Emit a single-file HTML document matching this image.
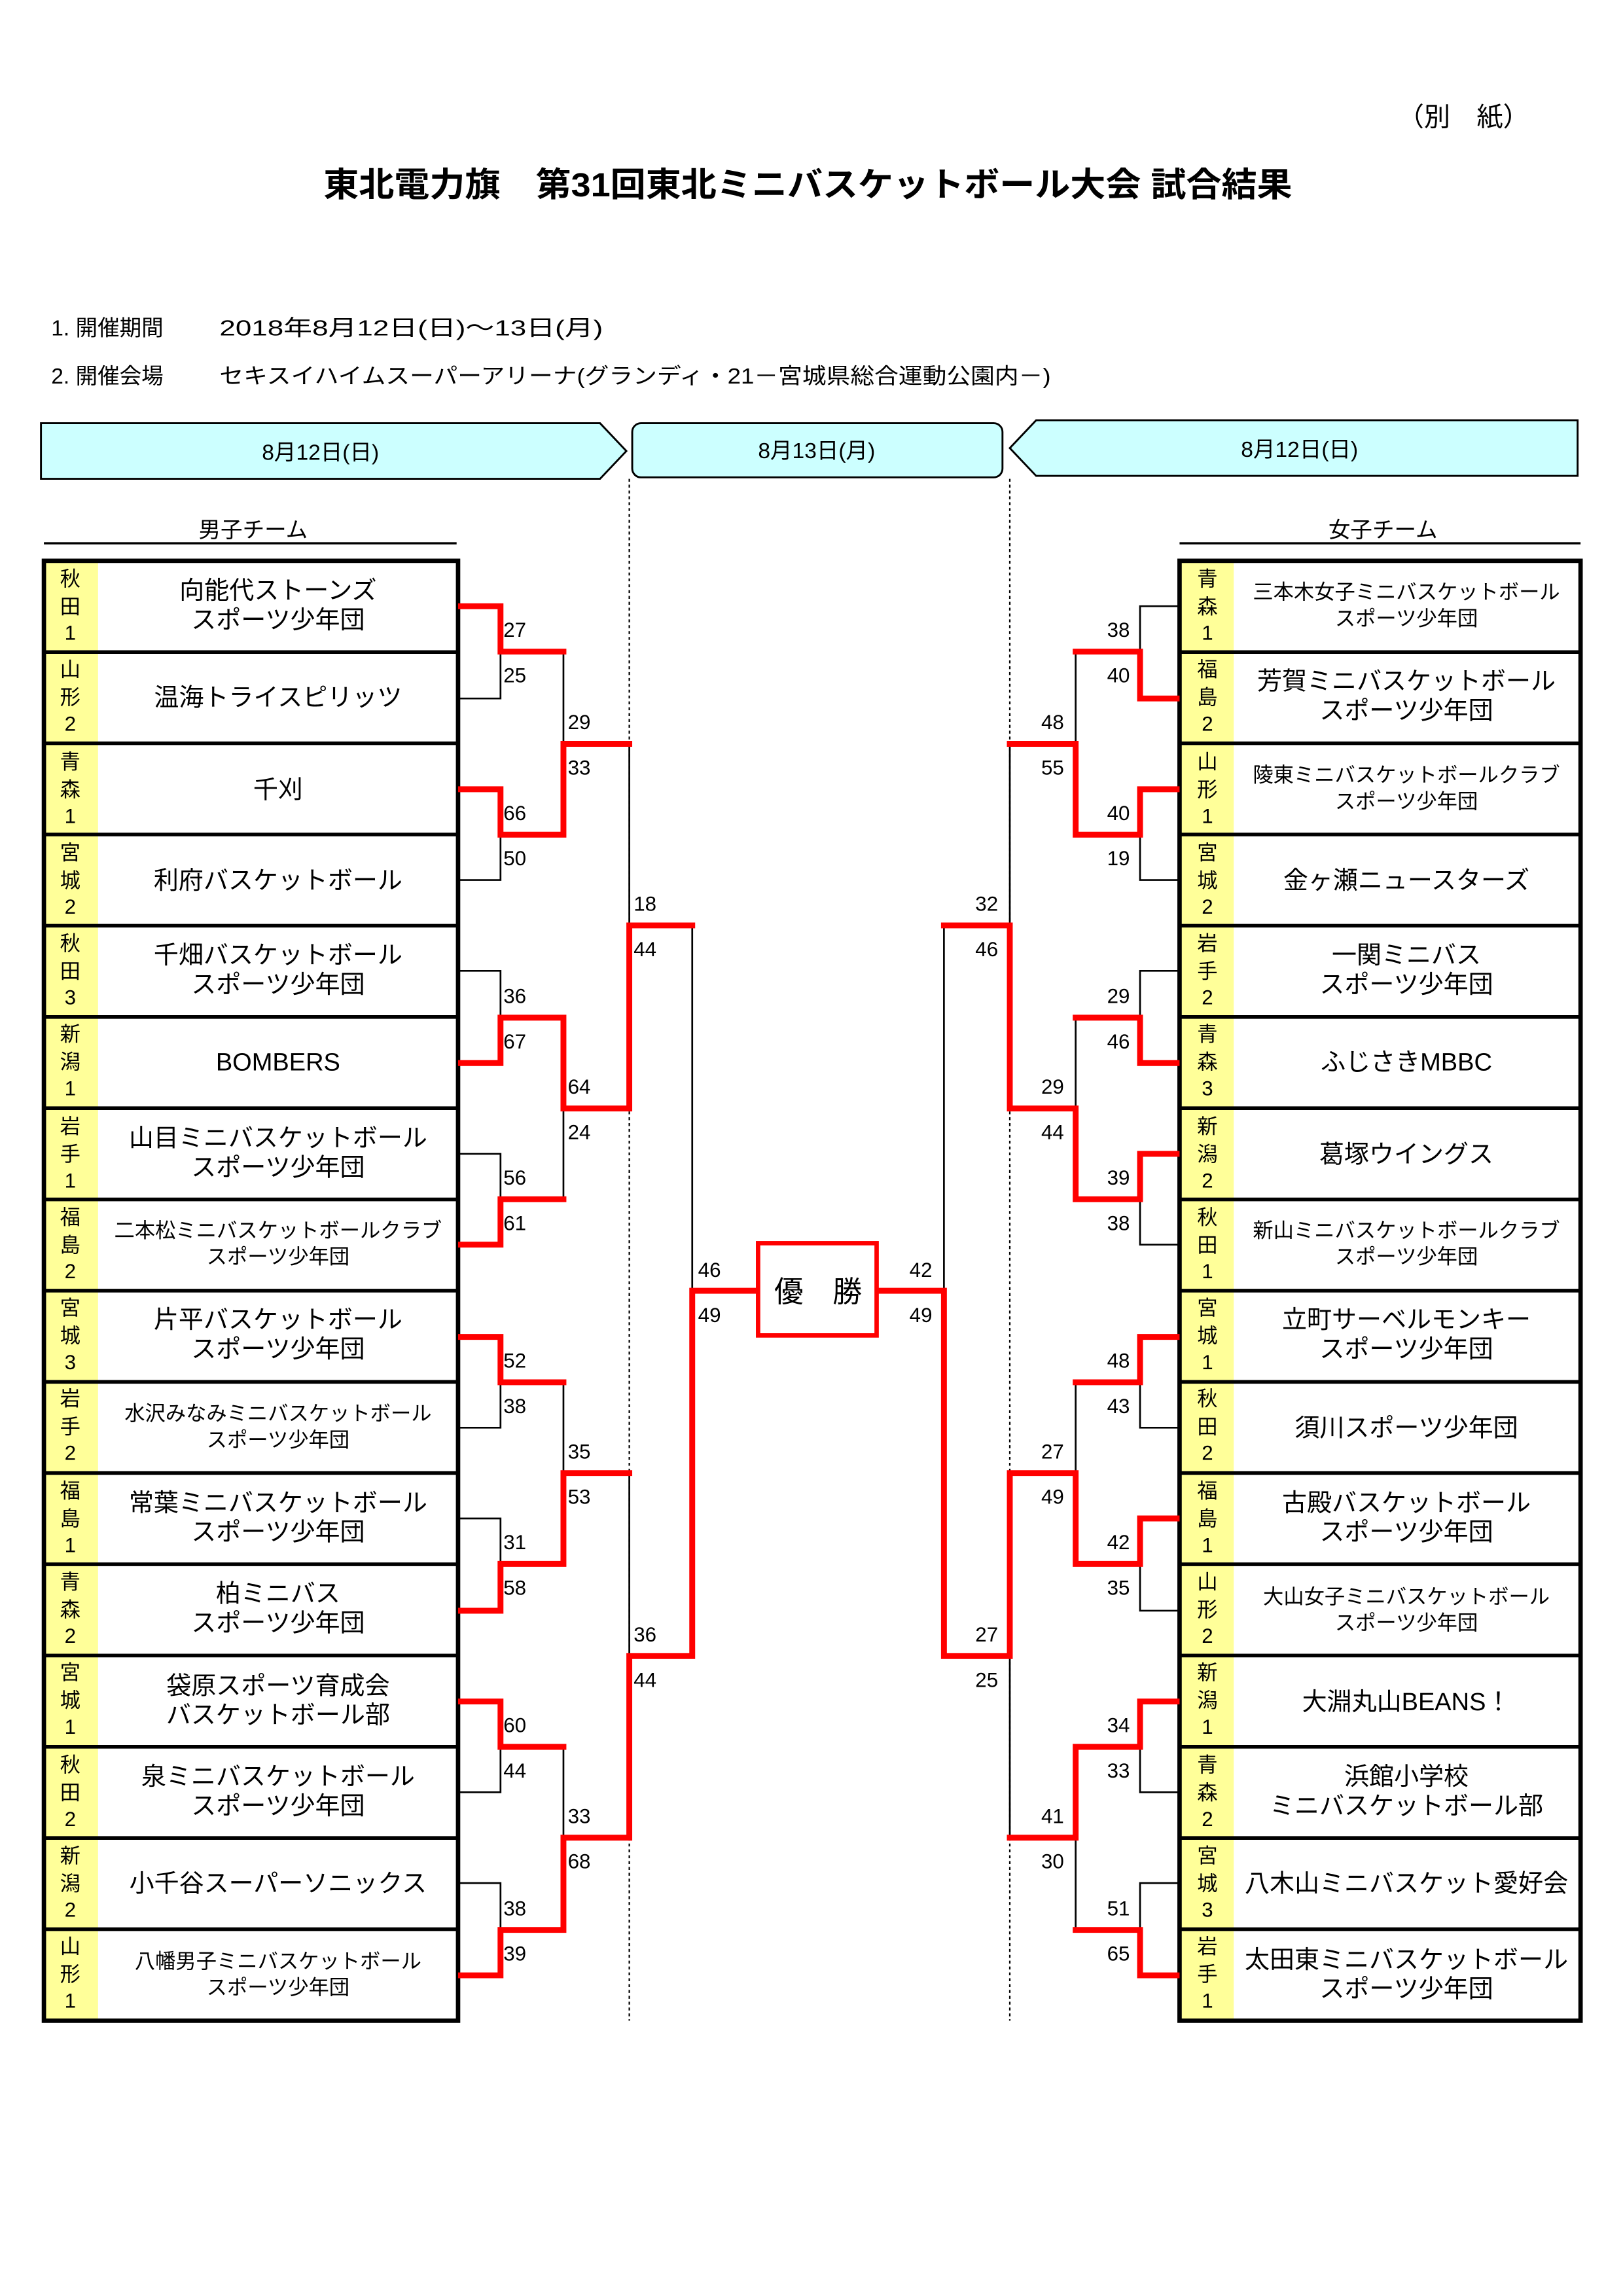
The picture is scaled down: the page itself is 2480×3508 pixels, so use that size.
<!DOCTYPE html>
<html><head><meta charset="utf-8"><style>
html,body{margin:0;padding:0;background:#fff}
svg{display:block}
text{font-family:"Liberation Sans","Noto Sans CJK JP",sans-serif;fill:#000}
.p{font-size:14px;text-anchor:middle}
.n{font-size:17px;text-anchor:middle}
.s{font-size:14px;text-anchor:middle}
.sc{font-size:14px}
.scr{font-size:14px;text-anchor:end}
.bk{fill:none;stroke:#000;stroke-width:1.2}
.rd{fill:none;stroke:#f00;stroke-width:4;stroke-linejoin:miter;stroke-linecap:square}
</style></head><body>
<svg width="2480" height="3508" viewBox="0 0 1109 1568" preserveAspectRatio="none" xmlns="http://www.w3.org/2000/svg">
<rect width="1109" height="1568" fill="#fff"/>
<text x="1000" y="86" style="font-size:18px;text-anchor:middle">（別　紙）</text>
<text x="552" y="134" style="font-size:23px;font-weight:bold;text-anchor:middle" textLength="662" lengthAdjust="spacingAndGlyphs">東北電力旗　第31回東北ミニバスケットボール大会 試合結果</text>
<text x="35" y="229" style="font-size:15px">1. 開催期間</text>
<text x="150" y="229" style="font-size:15px" textLength="262" lengthAdjust="spacingAndGlyphs">2018年8月12日(日)～13日(月)</text>
<text x="35" y="262" style="font-size:15px">2. 開催会場</text>
<text x="150" y="262" style="font-size:15px" textLength="568" lengthAdjust="spacingAndGlyphs">セキスイハイムスーパーアリーナ(グランディ・21－宮城県総合運動公園内－)</text>

<polygon points="28,289 410,289 428,308 410,327 28,327" fill="#ccffff" stroke="#000" stroke-width="1.3"/>
<rect x="432" y="289" width="253" height="37" rx="6" fill="#ccffff" stroke="#000" stroke-width="1.3"/>
<polygon points="708,287 1078,287 1078,325 708,325 690,306" fill="#ccffff" stroke="#000" stroke-width="1.3"/>
<text x="219" y="314" style="font-size:15px;text-anchor:middle">8月12日(日)</text>
<text x="558" y="313" style="font-size:15px;text-anchor:middle">8月13日(月)</text>
<text x="888" y="312" style="font-size:15px;text-anchor:middle">8月12日(日)</text>

<line x1="430" y1="327" x2="430" y2="1380" stroke="#000" stroke-width="1" stroke-dasharray="2,2"/>
<line x1="690" y1="327" x2="690" y2="1380" stroke="#000" stroke-width="1" stroke-dasharray="2,2"/>

<text x="173" y="367" style="font-size:15px;text-anchor:middle">男子チーム</text>
<line x1="30" y1="371" x2="312" y2="371" stroke="#000" stroke-width="1.5"/>
<text x="945" y="367" style="font-size:15px;text-anchor:middle">女子チーム</text>
<line x1="806" y1="371" x2="1080" y2="371" stroke="#000" stroke-width="1.5"/>

<rect x="30" y="383" width="283" height="997" fill="#fff"/>
<rect x="31" y="383" width="36" height="997" fill="#ffff99"/>
<rect x="807" y="383" width="36" height="997" fill="#ffff99"/>
<g stroke="#000" stroke-width="2.5">
<line x1="30" y1="445.3" x2="313" y2="445.3"/><line x1="30" y1="507.6" x2="313" y2="507.6"/><line x1="30" y1="569.9" x2="313" y2="569.9"/><line x1="30" y1="632.2" x2="313" y2="632.2"/><line x1="30" y1="694.5" x2="313" y2="694.5"/><line x1="30" y1="756.8" x2="313" y2="756.8"/><line x1="30" y1="819.1" x2="313" y2="819.1"/><line x1="30" y1="881.4" x2="313" y2="881.4"/><line x1="30" y1="943.7" x2="313" y2="943.7"/><line x1="30" y1="1006" x2="313" y2="1006"/><line x1="30" y1="1068.3" x2="313" y2="1068.3"/><line x1="30" y1="1130.6" x2="313" y2="1130.6"/><line x1="30" y1="1192.9" x2="313" y2="1192.9"/><line x1="30" y1="1255.2" x2="313" y2="1255.2"/><line x1="30" y1="1317.5" x2="313" y2="1317.5"/>
<line x1="806" y1="445.3" x2="1080" y2="445.3"/><line x1="806" y1="507.6" x2="1080" y2="507.6"/><line x1="806" y1="569.9" x2="1080" y2="569.9"/><line x1="806" y1="632.2" x2="1080" y2="632.2"/><line x1="806" y1="694.5" x2="1080" y2="694.5"/><line x1="806" y1="756.8" x2="1080" y2="756.8"/><line x1="806" y1="819.1" x2="1080" y2="819.1"/><line x1="806" y1="881.4" x2="1080" y2="881.4"/><line x1="806" y1="943.7" x2="1080" y2="943.7"/><line x1="806" y1="1006" x2="1080" y2="1006"/><line x1="806" y1="1068.3" x2="1080" y2="1068.3"/><line x1="806" y1="1130.6" x2="1080" y2="1130.6"/><line x1="806" y1="1192.9" x2="1080" y2="1192.9"/><line x1="806" y1="1255.2" x2="1080" y2="1255.2"/><line x1="806" y1="1317.5" x2="1080" y2="1317.5"/>
</g>
<rect x="30" y="383" width="283" height="997" fill="none" stroke="#000" stroke-width="3"/>
<rect x="806" y="383" width="274" height="997" fill="none" stroke="#000" stroke-width="3"/>

<g class="p">
<text x="48" y="400">秋</text><text x="48" y="419">田</text><text x="48" y="437">1</text>
<text x="48" y="462">山</text><text x="48" y="481">形</text><text x="48" y="499">2</text>
<text x="48" y="525">青</text><text x="48" y="544">森</text><text x="48" y="562">1</text>
<text x="48" y="587">宮</text><text x="48" y="606">城</text><text x="48" y="624">2</text>
<text x="48" y="649">秋</text><text x="48" y="668">田</text><text x="48" y="686">3</text>
<text x="48" y="711">新</text><text x="48" y="730">潟</text><text x="48" y="748">1</text>
<text x="48" y="774">岩</text><text x="48" y="793">手</text><text x="48" y="811">1</text>
<text x="48" y="836">福</text><text x="48" y="855">島</text><text x="48" y="873">2</text>
<text x="48" y="898">宮</text><text x="48" y="917">城</text><text x="48" y="935">3</text>
<text x="48" y="960">岩</text><text x="48" y="979">手</text><text x="48" y="997">2</text>
<text x="48" y="1023">福</text><text x="48" y="1042">島</text><text x="48" y="1060">1</text>
<text x="48" y="1085">青</text><text x="48" y="1104">森</text><text x="48" y="1122">2</text>
<text x="48" y="1147">宮</text><text x="48" y="1166">城</text><text x="48" y="1184">1</text>
<text x="48" y="1210">秋</text><text x="48" y="1229">田</text><text x="48" y="1247">2</text>
<text x="48" y="1272">新</text><text x="48" y="1291">潟</text><text x="48" y="1309">2</text>
<text x="48" y="1334">山</text><text x="48" y="1353">形</text><text x="48" y="1371">1</text>
</g>
<g class="p">
<text x="825" y="400">青</text><text x="825" y="419">森</text><text x="825" y="437">1</text>
<text x="825" y="462">福</text><text x="825" y="481">島</text><text x="825" y="499">2</text>
<text x="825" y="525">山</text><text x="825" y="544">形</text><text x="825" y="562">1</text>
<text x="825" y="587">宮</text><text x="825" y="606">城</text><text x="825" y="624">2</text>
<text x="825" y="649">岩</text><text x="825" y="668">手</text><text x="825" y="686">2</text>
<text x="825" y="711">青</text><text x="825" y="730">森</text><text x="825" y="748">3</text>
<text x="825" y="774">新</text><text x="825" y="793">潟</text><text x="825" y="811">2</text>
<text x="825" y="836">秋</text><text x="825" y="855">田</text><text x="825" y="873">1</text>
<text x="825" y="898">宮</text><text x="825" y="917">城</text><text x="825" y="935">1</text>
<text x="825" y="960">秋</text><text x="825" y="979">田</text><text x="825" y="997">2</text>
<text x="825" y="1023">福</text><text x="825" y="1042">島</text><text x="825" y="1060">1</text>
<text x="825" y="1085">山</text><text x="825" y="1104">形</text><text x="825" y="1122">2</text>
<text x="825" y="1147">新</text><text x="825" y="1166">潟</text><text x="825" y="1184">1</text>
<text x="825" y="1210">青</text><text x="825" y="1229">森</text><text x="825" y="1247">2</text>
<text x="825" y="1272">宮</text><text x="825" y="1291">城</text><text x="825" y="1309">3</text>
<text x="825" y="1334">岩</text><text x="825" y="1353">手</text><text x="825" y="1371">1</text>
</g>

<text class="n" x="190" y="409">向能代ストーンズ</text><text class="n" x="190" y="429">スポーツ少年団</text>
<text class="n" x="190" y="482">温海トライスピリッツ</text>
<text class="n" x="190" y="545">千刈</text>
<text class="n" x="190" y="607">利府バスケットボール</text>
<text class="n" x="190" y="658">千畑バスケットボール</text><text class="n" x="190" y="678">スポーツ少年団</text>
<text class="n" x="190" y="731">BOMBERS</text>
<text class="n" x="190" y="783">山目ミニバスケットボール</text><text class="n" x="190" y="803">スポーツ少年団</text>
<text class="s" x="190" y="845">二本松ミニバスケットボールクラブ</text><text class="s" x="190" y="863">スポーツ少年団</text>
<text class="n" x="190" y="907">片平バスケットボール</text><text class="n" x="190" y="927">スポーツ少年団</text>
<text class="s" x="190" y="970">水沢みなみミニバスケットボール</text><text class="s" x="190" y="988">スポーツ少年団</text>
<text class="n" x="190" y="1032">常葉ミニバスケットボール</text><text class="n" x="190" y="1052">スポーツ少年団</text>
<text class="n" x="190" y="1094">柏ミニバス</text><text class="n" x="190" y="1114">スポーツ少年団</text>
<text class="n" x="190" y="1157">袋原スポーツ育成会</text><text class="n" x="190" y="1177">バスケットボール部</text>
<text class="n" x="190" y="1219">泉ミニバスケットボール</text><text class="n" x="190" y="1239">スポーツ少年団</text>
<text class="n" x="190" y="1292">小千谷スーパーソニックス</text>
<text class="s" x="190" y="1344">八幡男子ミニバスケットボール</text><text class="s" x="190" y="1362">スポーツ少年団</text>

<text class="s" x="961" y="409">三本木女子ミニバスケットボール</text><text class="s" x="961" y="427">スポーツ少年団</text>
<text class="n" x="961" y="471">芳賀ミニバスケットボール</text><text class="n" x="961" y="491">スポーツ少年団</text>
<text class="s" x="961" y="534">陵東ミニバスケットボールクラブ</text><text class="s" x="961" y="552">スポーツ少年団</text>
<text class="n" x="961" y="607">金ヶ瀬ニュースターズ</text>
<text class="n" x="961" y="658">一関ミニバス</text><text class="n" x="961" y="678">スポーツ少年団</text>
<text class="n" x="961" y="731">ふじさきMBBC</text>
<text class="n" x="961" y="794">葛塚ウイングス</text>
<text class="s" x="961" y="845">新山ミニバスケットボールクラブ</text><text class="s" x="961" y="863">スポーツ少年団</text>
<text class="n" x="961" y="907">立町サーベルモンキー</text><text class="n" x="961" y="927">スポーツ少年団</text>
<text class="n" x="961" y="981">須川スポーツ少年団</text>
<text class="n" x="961" y="1032">古殿バスケットボール</text><text class="n" x="961" y="1052">スポーツ少年団</text>
<text class="s" x="961" y="1095">大山女子ミニバスケットボール</text><text class="s" x="961" y="1113">スポーツ少年団</text>
<text class="n" x="961" y="1168">大淵丸山BEANS！</text>
<text class="n" x="961" y="1219">浜館小学校</text><text class="n" x="961" y="1239">ミニバスケットボール部</text>
<text class="n" x="961" y="1292">八木山ミニバスケット愛好会</text>
<text class="n" x="961" y="1344">太田東ミニバスケットボール</text><text class="n" x="961" y="1364">スポーツ少年団</text>

<path class="bk" d="M313 414H342V477H313M342 445H385 M313 539H342V601H313M342 570H385 M313 663H342V726H313M342 695H385 M313 788H342V850H313M342 819H385 M313 913H342V975H313M342 944H385 M313 1037H342V1100H313M342 1068H385 M313 1162H342V1224H313M342 1193H385 M313 1286H342V1349H313M342 1318H385
M385 445V570M385 508H430 M385 695V819M385 757H430 M385 944V1068M385 1006H430 M385 1193V1318M385 1255H430
M430 508V757M430 632H473 M430 1006V1255M430 1131H473 M473 632V1131"/>
<path class="bk" d="M806 414H779V477H806M779 445H735 M806 539H779V601H806M779 570H735 M806 663H779V726H806M779 695H735 M806 788H779V850H806M779 819H735 M806 913H779V975H806M779 944H735 M806 1037H779V1100H806M779 1068H735 M806 1162H779V1224H806M779 1193H735 M806 1286H779V1349H806M779 1318H735
M735 445V570M735 508H690 M735 695V819M735 757H690 M735 944V1068M735 1006H690 M735 1193V1318M735 1255H690
M690 508V757M690 632H645 M690 1006V1255M690 1131H645 M645 632V1131"/>

<path class="rd" d="M315 414H342V445H385 M315 539H342V570H385 M385 570V508H430 M315 726H342V695H385 M315 850H342V819H385 M385 695V757H430 M430 757V632H473 M315 913H342V944H385 M315 1100H342V1068H385 M385 1068V1006H430 M315 1162H342V1193H385 M315 1349H342V1318H385 M385 1318V1255H430 M430 1255V1131H473 M473 1131V881.5H518"/>
<path class="rd" d="M804 477H779V445H735 M804 539H779V570H735 M735 570V508H690 M804 726H779V695H735 M804 788H779V819H735 M735 819V757H690 M690 757V632H645 M804 913H779V944H735 M804 1037H779V1068H735 M735 1068V1006H690 M804 1162H779V1193H735 M804 1349H779V1318H735 M735 1193V1255H690 M690 1006V1131H645 M645 1131V881.5H600"/>

<rect x="518" y="849" width="81" height="63" fill="#fff" stroke="#f00" stroke-width="3"/>
<text x="559" y="889" style="font-size:20px;text-anchor:middle">優　勝</text>

<g class="sc">
<text x="344" y="435">27</text><text x="344" y="466">25</text>
<text x="344" y="560">66</text><text x="344" y="591">50</text>
<text x="344" y="685">36</text><text x="344" y="716">67</text>
<text x="344" y="809">56</text><text x="344" y="840">61</text>
<text x="344" y="934">52</text><text x="344" y="965">38</text>
<text x="344" y="1058">31</text><text x="344" y="1089">58</text>
<text x="344" y="1183">60</text><text x="344" y="1214">44</text>
<text x="344" y="1308">38</text><text x="344" y="1339">39</text>
<text x="388" y="498">29</text><text x="388" y="529">33</text>
<text x="388" y="747">64</text><text x="388" y="778">24</text>
<text x="388" y="996">35</text><text x="388" y="1027">53</text>
<text x="388" y="1245">33</text><text x="388" y="1276">68</text>
<text x="433" y="622">18</text><text x="433" y="653">44</text>
<text x="433" y="1121">36</text><text x="433" y="1152">44</text>
<text x="477" y="872">46</text><text x="477" y="903">49</text>
</g>
<g class="scr">
<text x="772" y="435">38</text><text x="772" y="466">40</text>
<text x="772" y="560">40</text><text x="772" y="591">19</text>
<text x="772" y="685">29</text><text x="772" y="716">46</text>
<text x="772" y="809">39</text><text x="772" y="840">38</text>
<text x="772" y="934">48</text><text x="772" y="965">43</text>
<text x="772" y="1058">42</text><text x="772" y="1089">35</text>
<text x="772" y="1183">34</text><text x="772" y="1214">33</text>
<text x="772" y="1308">51</text><text x="772" y="1339">65</text>
<text x="727" y="498">48</text><text x="727" y="529">55</text>
<text x="727" y="747">29</text><text x="727" y="778">44</text>
<text x="727" y="996">27</text><text x="727" y="1027">49</text>
<text x="727" y="1245">41</text><text x="727" y="1276">30</text>
<text x="682" y="622">32</text><text x="682" y="653">46</text>
<text x="682" y="1121">27</text><text x="682" y="1152">25</text>
<text x="637" y="872">42</text><text x="637" y="903">49</text>
</g>
</svg>
</body></html>
